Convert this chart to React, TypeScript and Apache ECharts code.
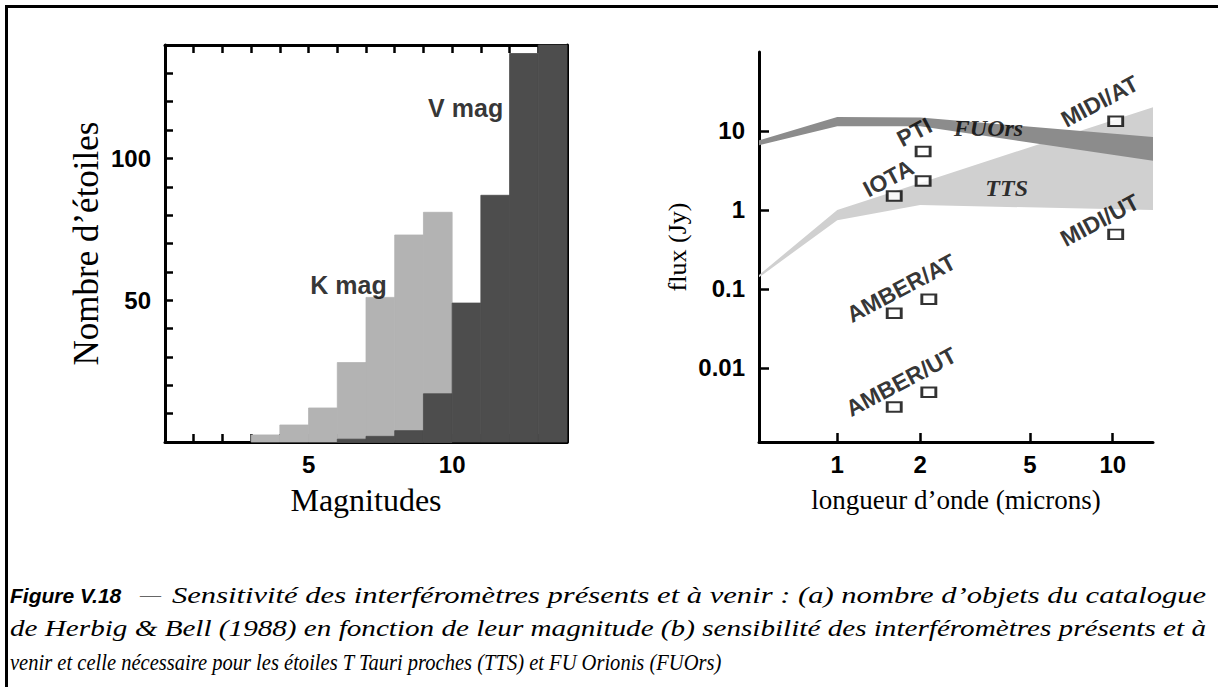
import React, { useEffect, useRef } from "react";
import * as echarts from "echarts";

// ---------- Left panel: histogram (magnitudes) ----------
const kBinStart = [3, 4, 5, 6, 7, 8, 9];
const kCounts = [2.5, 6, 12, 28, 51, 73, 81];
const vBinStart = [6, 7, 8, 9, 10, 11, 12, 13];
const vCounts = [1, 2, 4, 17, 49, 87, 137, 150];
const histLabels = [
  { name: "V mag", value: [10.47, 117.8] },
  { name: "K mag", value: [6.39, 55.4] },
];

// ---------- Right panel: sensitivity (log-log) ----------
const bandLambda = [0.52, 1, 2, 14];
const fuorsLower = [6.6, 11.5, 11.5, 4.2];
const fuorsUpper = [7.6, 15.0, 14.8, 8.4];
const ttsLower = [0.14, 0.74, 1.15, 1.0];
const ttsUpper = [0.15, 1.0, 2.2, 20];

const instrumentPoints = [
  [2.05, 5.5],
  [1.61, 1.5],
  [2.05, 2.33],
  [1.61, 0.049],
  [2.15, 0.074],
  [1.61, 0.0032],
  [2.15, 0.0049],
  [10.25, 13.3],
  [10.25, 0.49],
];
const instrumentLabels = [
  { name: "PTI", value: [1.905, 9.7] },
  { name: "IOTA", value: [1.533, 2.52] },
  { name: "AMBER/AT", value: [1.704, 0.102] },
  { name: "AMBER/UT", value: [1.704, 0.00665] },
  { name: "MIDI/AT", value: [8.97, 23.8] },
  { name: "MIDI/UT", value: [8.97, 0.741] },
];
const bandLabels = [
  { name: "FUOrs", value: [3.54, 10.8] },
  { name: "TTS", value: [4.12, 1.88] },
];

const xTicksRight = [1, 2, 5, 10];
const yTicksRight = [0.01, 0.1, 1, 10];

// ---------- Caption ----------
const captionHead = "Figure V.18";
const captionLines = [
  "Sensitivité des interféromètres présents et à venir : (a) nombre d’objets du catalogue",
  "de Herbig & Bell (1988) en fonction de leur magnitude (b) sensibilité des interféromètres présents et à",
  "venir et celle nécessaire pour les étoiles T Tauri proches (TTS) et FU Orionis (FUOrs)",
];

const SANS = '"Liberation Sans", Arial, Helvetica, sans-serif';
const SERIF = '"Liberation Serif", "Times New Roman", serif';

export default function App() {
  const ref = useRef<HTMLDivElement>(null);

  useEffect(() => {
    document.body.style.margin = "0";
    const el = ref.current;
    if (!el) return;
    const chart = echarts.init(el, null, { renderer: "svg" });

    const histRender = (color: string) => (params: any, api: any) => {
      const p0 = api.coord([api.value(0), api.value(2)]);
      const p1 = api.coord([api.value(1), 0]);
      const rect = echarts.graphic.clipRectByRect(
        { x: p0[0], y: p0[1], width: p1[0] - p0[0], height: p1[1] - p0[1] },
        {
          x: params.coordSys.x,
          y: params.coordSys.y,
          width: params.coordSys.width,
          height: params.coordSys.height,
        }
      );
      return (
        rect && {
          type: "rect",
          shape: rect,
          style: { fill: color, stroke: color, lineWidth: 0.8 },
        }
      );
    };

    const bandRender = (lam: number[], lo: number[], up: number[], color: string) => (
      params: any,
      api: any
    ) => {
      if (params.dataIndex !== 0) return null;
      const top = lam.map((l, i) => api.coord([l, up[i]]));
      const bot = lam.map((l, i) => api.coord([l, lo[i]])).reverse();
      return { type: "polygon", shape: { points: top.concat(bot) }, style: { fill: color } };
    };

    // caption: each line fitted to its width in the reference
    const capSize = 23;
    const cv = document.createElement("canvas").getContext("2d")!;
    cv.font = `italic ${capSize}px ${SERIF}`;
    const capTargets = [
      { x: 172, w: 1035, y: 595 },
      { x: 10, w: 1197, y: 629 },
      { x: 10, w: 712, y: 663 },
    ];
    const captionEls = captionLines.map((t, i) => {
      const natural = cv.measureText(t).width || 1;
      return {
        type: "text",
        x: capTargets[i].x,
        y: capTargets[i].y,
        scaleX: capTargets[i].w / natural,
        style: {
          text: t,
          fontSize: capSize,
          fontFamily: SERIF,
          fontStyle: "italic",
          fill: "#000",
          align: "left",
          verticalAlign: "middle",
        },
      };
    });

    const axisLine = { show: true, onZero: false, lineStyle: { color: "#000", width: 3 } };
    const tick = (len: number) => ({
      show: true,
      inside: true,
      length: len,
      lineStyle: { color: "#000", width: 2.5 },
    });
    const tickFont = { color: "#000", fontFamily: SANS, fontWeight: "bold" as const, fontSize: 24 };

    chart.setOption({
      animation: false,
      backgroundColor: "#fff",
      grid: [
        { left: 165, top: 45, width: 402, height: 397 },
        { left: 759, top: 52, width: 394, height: 390 },
      ],
      xAxis: [
        {
          gridIndex: 0,
          type: "value",
          min: 0,
          max: 14,
          interval: 1,
          position: "bottom",
          axisLine,
          axisTick: tick(8),
          splitLine: { show: false },
          axisLabel: {
            ...tickFont,
            margin: 10,
            formatter: (v: number) => (v === 5 || v === 10 ? String(v) : ""),
          },
          name: "Magnitudes",
          nameLocation: "middle",
          nameGap: 42,
          nameTextStyle: { fontFamily: SERIF, fontSize: 32, color: "#000" },
        },
        {
          gridIndex: 0,
          type: "value",
          min: 0,
          max: 14,
          interval: 1,
          position: "top",
          axisLine,
          axisTick: tick(8),
          splitLine: { show: false },
          axisLabel: { show: false },
        },
        {
          gridIndex: 1,
          type: "log",
          logBase: 10,
          min: 0.52,
          max: 14,
          position: "bottom",
          axisLine,
          axisTick: { ...tick(9), customValues: xTicksRight },
          minorTick: { show: false },
          splitLine: { show: false },
          axisLabel: {
            ...tickFont,
            margin: 10,
            customValues: xTicksRight,
            formatter: (v: number) => String(v),
          },
          name: "longueur d’onde (microns)",
          nameLocation: "middle",
          nameGap: 44,
          nameTextStyle: { fontFamily: SERIF, fontSize: 27, color: "#000" },
        },
      ],
      yAxis: [
        {
          gridIndex: 0,
          type: "value",
          min: 0,
          max: 140,
          interval: 10,
          position: "left",
          axisLine,
          axisTick: tick(8),
          splitLine: { show: false },
          axisLabel: {
            ...tickFont,
            margin: 14,
            formatter: (v: number) => (v === 50 || v === 100 ? String(v) : ""),
          },
          name: "Nombre d’étoiles",
          nameLocation: "middle",
          nameGap: 61,
          nameTextStyle: { fontFamily: SERIF, fontSize: 35, color: "#000" },
        },
        {
          gridIndex: 0,
          type: "value",
          min: 0,
          max: 140,
          interval: 10,
          position: "right",
          axisLine,
          axisTick: tick(8),
          splitLine: { show: false },
          axisLabel: { show: false },
        },
        {
          gridIndex: 1,
          type: "log",
          logBase: 10,
          min: 0.00115,
          max: 100,
          position: "left",
          axisLine,
          axisTick: { ...tick(10), customValues: yTicksRight },
          minorTick: { show: false },
          splitLine: { show: false },
          axisLabel: {
            ...tickFont,
            margin: 14,
            customValues: yTicksRight,
            formatter: (v: number) => String(v),
          },
          name: "flux (Jy)",
          nameLocation: "middle",
          nameGap: 69,
          nameTextStyle: { fontFamily: SERIF, fontSize: 26, color: "#000" },
        },
      ],
      series: [
        {
          type: "custom",
          name: "K mag",
          xAxisIndex: 0,
          yAxisIndex: 0,
          silent: true,
          z: 1,
          renderItem: histRender("#b3b3b3"),
          encode: { x: [0, 1], y: 2 },
          data: kBinStart.map((s, i) => [s, s + 1, kCounts[i]]),
        },
        {
          type: "custom",
          name: "V mag",
          xAxisIndex: 0,
          yAxisIndex: 0,
          silent: true,
          z: 1,
          renderItem: histRender("#4d4d4d"),
          encode: { x: [0, 1], y: 2 },
          data: vBinStart.map((s, i) => [s, s + 1, vCounts[i]]),
        },
        {
          type: "scatter",
          xAxisIndex: 0,
          yAxisIndex: 0,
          silent: true,
          symbolSize: 1,
          itemStyle: { color: "rgba(0,0,0,0)" },
          label: {
            show: true,
            position: "inside",
            formatter: "{b}",
            color: "#000",
            fontFamily: SANS,
            fontWeight: "bold",
            fontSize: 25,
          },
          data: histLabels,
        },
        {
          type: "custom",
          name: "TTS",
          xAxisIndex: 2,
          yAxisIndex: 2,
          silent: true,
          z: 1,
          renderItem: bandRender(bandLambda, ttsLower, ttsUpper, "#d0d0d0"),
          data: bandLambda.map((l, i) => [l, ttsLower[i], ttsUpper[i]]),
        },
        {
          type: "custom",
          name: "FUOrs",
          xAxisIndex: 2,
          yAxisIndex: 2,
          silent: true,
          z: 1,
          renderItem: bandRender(bandLambda, fuorsLower, fuorsUpper, "#8c8c8c"),
          data: bandLambda.map((l, i) => [l, fuorsLower[i], fuorsUpper[i]]),
        },
        {
          type: "scatter",
          xAxisIndex: 2,
          yAxisIndex: 2,
          silent: true,
          symbolSize: 1,
          itemStyle: { color: "rgba(0,0,0,0)" },
          label: {
            show: true,
            position: "inside",
            formatter: "{b}",
            color: "#000",
            fontFamily: SERIF,
            fontStyle: "italic",
            fontWeight: "bold",
            fontSize: 24,
          },
          data: bandLabels,
        },
        {
          type: "scatter",
          xAxisIndex: 2,
          yAxisIndex: 2,
          silent: true,
          symbol: "rect",
          symbolSize: [14, 9.5],
          itemStyle: { color: "#fff", borderColor: "#000", borderWidth: 2.4 },
          data: instrumentPoints,
        },
        {
          type: "scatter",
          xAxisIndex: 2,
          yAxisIndex: 2,
          silent: true,
          symbolSize: 1,
          itemStyle: { color: "rgba(0,0,0,0)" },
          label: {
            show: true,
            position: "inside",
            rotate: 28,
            formatter: "{b}",
            color: "#000",
            fontFamily: SANS,
            fontWeight: "bold",
            fontSize: 23,
          },
          data: instrumentLabels,
        },
      ],
      graphic: [
        { type: "line", shape: { x1: 5, y1: 6.5, x2: 1218, y2: 6.5 }, style: { stroke: "#000", lineWidth: 3 } },
        { type: "line", shape: { x1: 6.5, y1: 5, x2: 6.5, y2: 687 }, style: { stroke: "#000", lineWidth: 3 } },
        {
          type: "text",
          x: 10,
          y: 595,
          style: {
            text: captionHead,
            fontSize: 21,
            fontFamily: SANS,
            fontWeight: "bold",
            fontStyle: "italic",
            fill: "#000",
            align: "left",
            verticalAlign: "middle",
          },
        },
        {
          type: "text",
          x: 140,
          y: 595,
          style: {
            text: "—",
            fontSize: 21,
            fontFamily: SERIF,
            fill: "#666",
            align: "left",
            verticalAlign: "middle",
          },
        },
        ...captionEls,
      ],
    });

    return () => chart.dispose();
  }, []);

  return <div ref={ref} style={{ width: 1218, height: 687 }} />;
}
